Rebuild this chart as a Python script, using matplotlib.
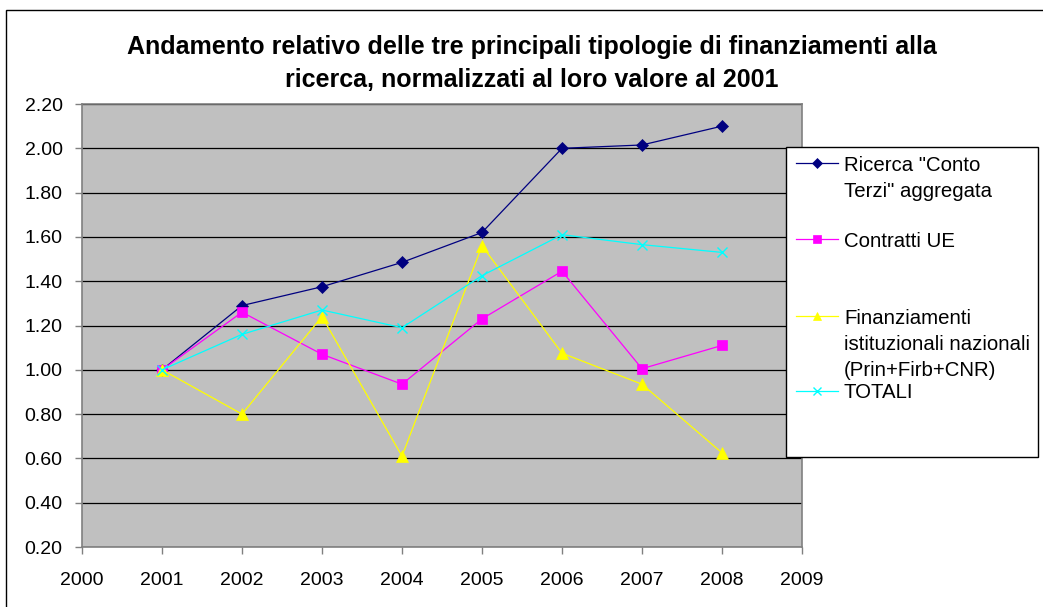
import matplotlib.pyplot as plt
import numpy as np
from matplotlib.lines import Line2D
from matplotlib.patches import Rectangle

plt.rcParams['font.family'] = ['Liberation Sans', 'DejaVu Sans']

years = [2001, 2002, 2003, 2004, 2005, 2006, 2007, 2008]
conto_terzi = [1.00, 1.29, 1.375, 1.485, 1.62, 2.00, 2.015, 2.10]
contratti_ue = [1.00, 1.26, 1.07, 0.935, 1.23, 1.445, 1.005, 1.11]
finanz_ist = [1.00, 0.80, 1.24, 0.61, 1.56, 1.075, 0.935, 0.625]
totali = [1.00, 1.16, 1.27, 1.19, 1.425, 1.61, 1.565, 1.53]

labels = ['Ricerca "Conto\nTerzi" aggregata',
          'Contratti UE',
          'Finanziamenti\nistituzionali nazionali\n(Prin+Firb+CNR)',
          'TOTALI']
title_lines = ['Andamento relativo delle tre principali tipologie di finanziamenti alla',
               'ricerca, normalizzati al loro valore al 2001']
xticks = list(range(2000, 2010))
yticks = np.arange(0.2, 2.21, 0.2)

W, H = 1043, 607
fig = plt.figure(figsize=(W / 100, H / 100), dpi=100)
fig.patch.set_facecolor('white')

# outer chart border (only left/top visible)
fig.add_artist(Rectangle((6 / W, -0.1), 1.2, 1.1 - 10 / H, transform=fig.transFigure,
                         fill=False, edgecolor='black', lw=1.0))

ax = fig.add_axes([82 / W, 1 - 547 / H, 720 / W, 443 / H])
ax.set_facecolor('#C0C0C0')

series = [conto_terzi, contratti_ue, finanz_ist, totali]
styles = [dict(color='#000080', marker='D', ms=6.5, mew=0.5),
          dict(color='#FF00FF', marker='s', ms=6.5, mew=0.5),
          dict(color='#FFFF00', marker='^', ms=8, mew=0.5),
          dict(color='#00FFFF', marker='x', ms=7, mew=1.0)]
for vals, st in zip(series, styles):
    ax.plot(years, vals, lw=0.9, color=st['color'], marker=st['marker'],
            ms=st['ms'], mew=st['mew'], mec=st['color'], mfc=st['color'], zorder=3)

ax.set_xlim(2000, 2009)
ax.set_ylim(0.2, 2.2)
ax.set_xticks(xticks)
ax.set_xticklabels([str(x) for x in xticks])
ax.set_yticks(yticks)
ax.set_yticklabels(['%.2f' % y for y in yticks])
ax.yaxis.grid(True, color='black', lw=0.9)
ax.set_axisbelow(True)
for s in ax.spines.values():
    s.set_color('#808080')
    s.set_linewidth(1.2)
ax.tick_params(axis='both', direction='out', length=5, width=1, color='#808080',
               labelsize=14, labelcolor='black')
ax.tick_params(axis='x', pad=13)
ax.tick_params(axis='y', pad=9)

# title
for i, line in enumerate(title_lines):
    fig.text(532 / W, 1 - (54.3 + i * 32.4) / H, line, ha='center', va='baseline',
             fontsize=18, fontweight='bold')

# legend box
fig.add_artist(Rectangle((786 / W, 1 - 457 / H), 252 / W, 310 / H, transform=fig.transFigure,
                         facecolor='white', edgecolor='black', lw=1.0, zorder=5))
row_y = [163, 239, 316, 391]
base_y = [170.7, 246.7, 324, 398.3]
for lab, st, y, b in zip(labels, styles, row_y, base_y):
    yf = 1 - y / H
    fig.add_artist(Line2D([796 / W, 838 / W], [yf, yf], transform=fig.transFigure,
                          color=st['color'], lw=0.9, zorder=6))
    fig.add_artist(Line2D([817 / W], [yf], transform=fig.transFigure, color=st['color'],
                          marker=st['marker'], ms=st['ms'] * 0.8, mew=st['mew'],
                          mec=st['color'], mfc=st['color'], zorder=6))
    for j, part in enumerate(lab.split('\n')):
        fig.text(844 / W, 1 - (b + j * 26) / H, part, ha='left', va='baseline',
                 fontsize=14.7, zorder=7)

fig.savefig('out.png', dpi=100)
